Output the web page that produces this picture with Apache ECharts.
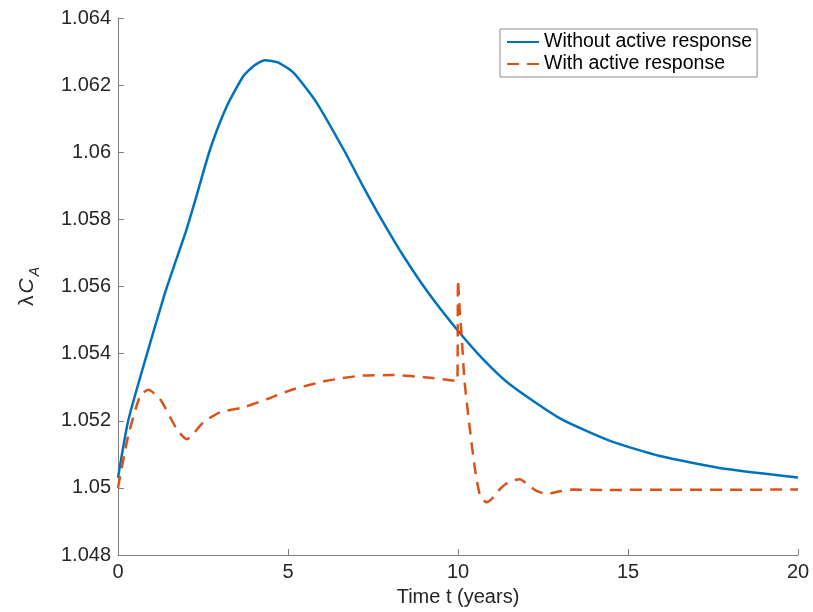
<!DOCTYPE html>
<html>
<head>
<meta charset="utf-8">
<script src="https://cdn.jsdelivr.net/npm/echarts@6/dist/echarts.min.js"></script>
<style>
  html, body { margin: 0; padding: 0; background: #fff; }
  #chart { width: 813px; height: 612px; }
</style>
</head>
<body>
<div id="chart"></div>
<script>
// Without active response (blue)
var tBlue = [0, 0.3, 0.84, 1.38, 1.73, 2.0, 2.31, 2.71, 3.2, 3.69, 4.0, 4.32, 4.7, 5.16, 5.84, 6.68,
             7.2, 7.75, 8.4, 9.12, 10.0, 10.74, 11.53, 13.0, 14.47, 15.94, 17.9, 20];
var yBlue = [1.0503, 1.0520, 1.05395, 1.0558, 1.05685, 1.05765, 1.0587, 1.06009, 1.06137, 1.06227, 1.06258,
             1.06274, 1.06268, 1.06237, 1.06148, 1.0600, 1.0590, 1.0580, 1.0569, 1.05582, 1.05468,
             1.05383, 1.05308, 1.05207, 1.0514, 1.05095, 1.05056, 1.05031];

// With active response (red dashed)
var tRed = [0, 0.3, 0.65, 0.89, 1.24, 1.73, 2.02, 2.51, 3.0, 3.69, 4.37, 5.16, 6.14, 7.12, 8.1, 9.08, 9.91,
            9.98, 10.0, 10.05, 10.11, 10.19, 10.35, 10.5, 10.65, 10.84, 11.0, 11.24, 11.5, 11.82, 12.05,
            12.31, 12.6, 13.0, 13.4, 14.27, 20];
var yRed = [1.0500, 1.05155, 1.05274, 1.05292, 1.05264, 1.05175, 1.05145, 1.05195, 1.05225, 1.0524,
            1.05264, 1.05294, 1.05319, 1.05334, 1.05336, 1.05329, 1.05319, 1.05317, 1.0562, 1.0553,
            1.0545, 1.0532, 1.05175, 1.05056, 1.04977, 1.04957, 1.04968, 1.04997, 1.05018, 1.05026,
            1.0501, 1.04991, 1.04982, 1.0499, 1.04995, 1.04994, 1.04995];

var xTicks = { min: 0, max: 20, interval: 5 };
var yTicks = { min: 1.048, max: 1.064, interval: 0.002 };

function zip(xs, ys) {
    return xs.map(function (x, i) { return [x, ys[i]]; });
}

var font = 'Liberation Sans, Arial, Helvetica, sans-serif';
var myChart = echarts.init(document.getElementById('chart'));

myChart.setOption({
    animation: false,
    textStyle: { fontFamily: font },
    grid: { left: 118, right: 15, top: 18, bottom: 56, containLabel: false },
    legend: {
        left: 500,
        top: 29,
        orient: 'vertical',
        borderColor: '#8c8c8c',
        borderWidth: 1,
        padding: [3, 5, 3, 6],
        itemWidth: 32,
        itemHeight: 12,
        itemGap: 2,
        itemStyle: { opacity: 0 }, // hide the symbol, keep the line sample
        textStyle: { fontSize: 19.5, color: '#000', fontFamily: font },
        data: ['Without active response', 'With active response']
    },
    xAxis: {
        type: 'value',
        min: xTicks.min,
        max: xTicks.max,
        interval: xTicks.interval,
        name: 'Time t (years)',
        nameLocation: 'middle',
        nameGap: 32,
        nameTextStyle: { fontSize: 20, color: '#262626' },
        axisLine: { lineStyle: { color: '#808080', width: 1 } },
        axisTick: { inside: true, length: 6, lineStyle: { color: '#808080' } },
        axisLabel: { fontSize: 20, color: '#262626', margin: 7 },
        splitLine: { show: false }
    },
    yAxis: {
        type: 'value',
        min: yTicks.min,
        max: yTicks.max,
        interval: yTicks.interval,
        name: '{l|λ}{c|C}{s|A}',
        nameLocation: 'middle',
        nameGap: 76,
        nameRotate: 90,
        nameTextStyle: {
            rich: {
                l: { fontSize: 21, color: '#262626', padding: [0, 2, 0, 0] },
                c: { fontSize: 21, fontStyle: 'italic', color: '#262626' },
                s: { fontSize: 14, fontStyle: 'italic', color: '#262626', padding: [16, 0, 0, 2] }
            }
        },
        axisLine: { show: true, lineStyle: { color: '#808080', width: 1 } },
        axisTick: { show: true, inside: true, length: 6, lineStyle: { color: '#808080' } },
        axisLabel: { fontSize: 20, color: '#262626', margin: 7 },
        splitLine: { show: false }
    },
    series: [
        {
            name: 'Without active response',
            type: 'line',
            data: zip(tBlue, yBlue),
            showSymbol: false,
            symbol: 'none',
            smooth: 0.2,
            lineStyle: { color: '#0072BD', width: 2.5 },
            itemStyle: { color: '#0072BD' }
        },
        {
            name: 'With active response',
            type: 'line',
            data: zip(tRed, yRed),
            showSymbol: false,
            symbol: 'none',
            smooth: 0.2,
            lineStyle: { color: '#D95319', width: 2.5, type: [12, 8] },
            itemStyle: { color: '#D95319' }
        }
    ]
});
</script>
</body>
</html>
